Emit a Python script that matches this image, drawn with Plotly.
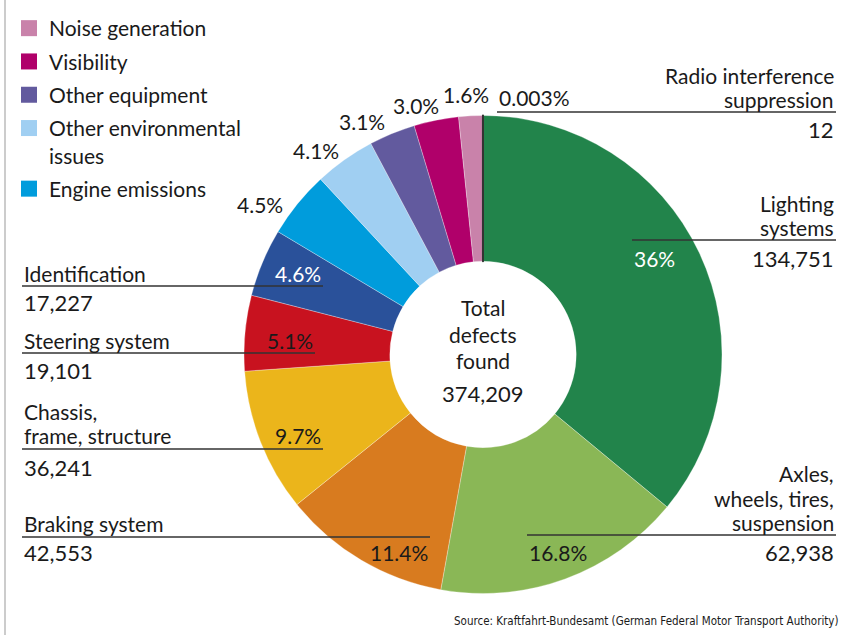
import plotly.graph_objects as go

W, H = 850, 635

# ---- data (clockwise from 12 o'clock) ----
categories = ["Lighting systems", "Axles, wheels, tires, suspension", "Braking system",
              "Chassis, frame, structure", "Steering system", "Identification",
              "Engine emissions", "Other environmental issues", "Other equipment",
              "Visibility", "Noise generation", "Radio interference suppression"]
defects = [134751, 62938, 42553, 36241, 19101, 17227,
           16900, 15400, 11700, 11300, 6086, 12]
colors = ["#22844b", "#8ab756", "#d87b1f", "#ebb51b", "#c8121f", "#2a519a",
          "#009cdc", "#a0cff2", "#625a9e", "#b0006a", "#c982aa", "#333333"]
pct_labels = ["36%", "16.8%", "11.4%", "9.7%", "5.1%", "4.6%",
              "4.5%", "4.1%", "3.1%", "3.0%", "1.6%", "0.003%"]
count_labels = ["134,751", "62,938", "42,553", "36,241", "19,101", "17,227",
                "", "", "", "", "", "12"]
legend_items = ["Noise generation", "Visibility", "Other equipment",
                "Other environmental<br>issues", "Engine emissions"]
legend_colors = ["#c982aa", "#b0006a", "#625a9e", "#a0cff2", "#009cdc"]
total_label = "374,209"

FONT = "Lato"
FS = 21      # words
FN = 22      # counts
FP = 21      # percentages
TXT = "#1a1a1a"

fig = go.Figure()

line_colors = ["rgba(255,255,255,0.6)"] * (len(categories) - 1) + ["#333333"]
line_widths = [0.5] * (len(categories) - 1) + [2]

fig.add_trace(go.Pie(
    labels=categories, values=defects, sort=False, direction="clockwise",
    rotation=0, hole=0.39, textinfo="none", hoverinfo="skip",
    marker=dict(colors=colors, line=dict(color=line_colors, width=line_widths)),
    showlegend=False,
    domain=dict(x=[243 / W, 723 / W], y=[1 - 593.5 / H, 1 - 115.5 / H]),
))

for i, (name, col) in enumerate(zip(legend_items, legend_colors)):
    fig.add_trace(go.Scatter(x=[None], y=[None], mode="markers", name=name,
                             legendgroup="g%d" % i,
                             marker=dict(symbol="square", size=17, color=col),
                             showlegend=True, hoverinfo="skip"))

ann = []


def t(x, y, s, anchor="left", color=TXT, size=FS, family=FONT):
    ann.append(dict(x=x / W, y=1 - y / H, xref="paper", yref="paper", text=s,
                    showarrow=False, xanchor=anchor, yanchor="middle",
                    font=dict(family=family, size=size, color=color)))


shapes = []


def hl(x0, x1, y):
    shapes.append(dict(type="line", xref="paper", yref="paper",
                       x0=x0 / W, x1=x1 / W, y0=1 - y / H, y1=1 - y / H,
                       line=dict(color="#333333", width=1.6)))


# outside percentage labels (small slices)
t(260, 204, pct_labels[6], "center", size=FP)
t(316, 150, pct_labels[7], "center", size=FP)
t(362, 122, pct_labels[8], "center", size=FP)
t(416, 105, pct_labels[9], "center", size=FP)
t(466, 94, pct_labels[10], "center", size=FP)
t(497, 98, pct_labels[11], "left", size=FP)

# Radio interference
t(836, 75, "Radio interference", "right")
t(836, 100, "suppression", "right")
hl(497, 836, 112)
t(836, 130, count_labels[11], "right", size=FN)

# Lighting
t(836, 203, "Lighting", "right")
t(836, 228, "systems", "right")
hl(632, 836, 240)
t(632, 258, pct_labels[0], "left", color="white", size=FP)
t(836, 258, count_labels[0], "right", size=FN)

# Axles
t(836, 473, "Axles,", "right")
t(836, 498, "wheels, tires,", "right")
t(836, 522, "suspension", "right")
hl(527, 836, 535)
t(527, 552, pct_labels[1], "left", size=FP)
t(836, 552, count_labels[1], "right", size=FN)

# Braking
t(22, 523, "Braking system", "left")
hl(22, 430, 537)
t(22, 552, count_labels[2], "left", size=FN)
t(430, 552, pct_labels[2], "right", size=FP)

# Chassis
t(22, 411, "Chassis,", "left")
t(22, 435, "frame, structure", "left")
hl(22, 323, 449)
t(323, 435, pct_labels[3], "right", size=FP)
t(22, 467, count_labels[3], "left", size=FN)

# Steering
t(22, 340, "Steering system", "left")
hl(22, 315, 353)
t(315, 340, pct_labels[4], "right", size=FP)
t(22, 370, count_labels[4], "left", size=FN)

# Identification
t(22, 273, "Identification", "left")
hl(22, 323, 286)
t(323, 273, pct_labels[5], "right", color="white", size=FP)
t(22, 303, count_labels[5], "left", size=FN)

# centre
t(483, 307, "Total", "center")
t(483, 334, "defects", "center")
t(483, 360, "found", "center")
t(483, 393, total_label, "center", size=FN)

# source
t(840, 621, "Source: Kraftfahrt-Bundesamt (German Federal Motor Transport Authority)",
  "right", size=11.5, family="DejaVu Sans Condensed, Lato")

# left border
shapes.append(dict(type="line", xref="paper", yref="paper", x0=5 / W, x1=5 / W,
                   y0=0, y1=1, line=dict(color="#cccccc", width=2)))

fig.update_layout(
    width=W, height=H, margin=dict(l=0, r=0, t=0, b=0),
    paper_bgcolor="white", plot_bgcolor="white",
    xaxis=dict(visible=False), yaxis=dict(visible=False),
    annotations=ann, shapes=shapes,
    legend=dict(x=9 / W, y=1 - 8 / H, xanchor="left", yanchor="top",
                font=dict(family=FONT, size=FS, color=TXT),
                bgcolor="rgba(0,0,0,0)", valign="top", tracegroupgap=3,
                itemsizing="trace"),
    font=dict(family=FONT, color=TXT),
)

fig.write_html("out.html", config={"displayModeBar": False},
               post_script="document.body.style.margin='0';")
